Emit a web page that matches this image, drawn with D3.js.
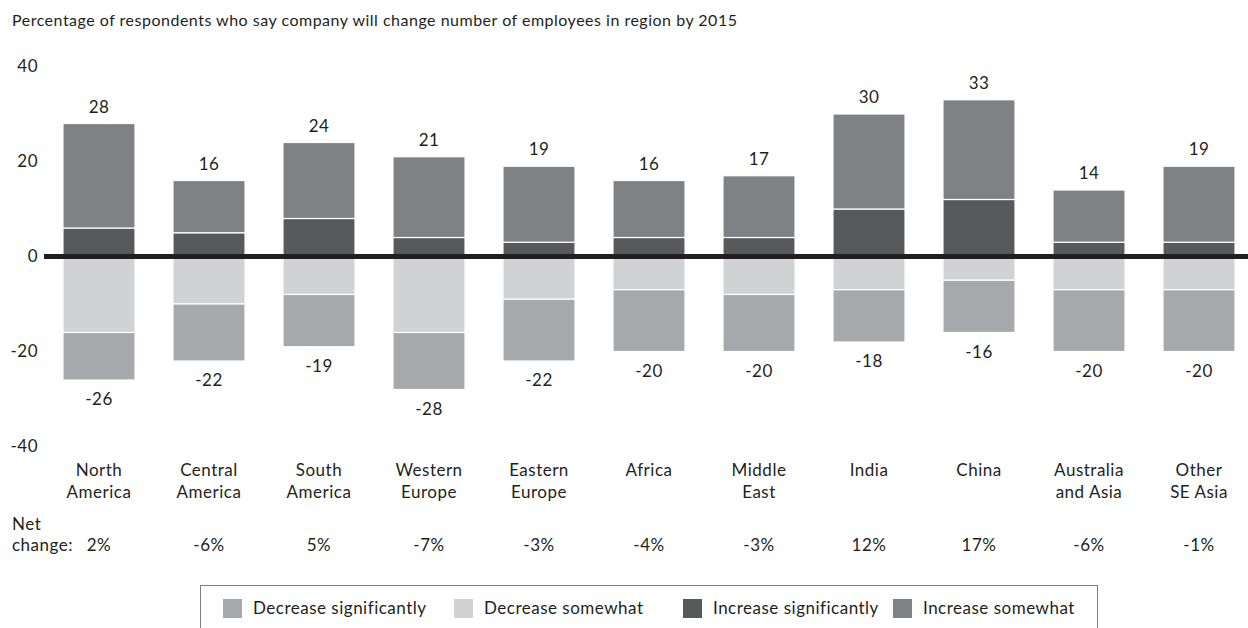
<!DOCTYPE html>
<meta charset="utf-8">
<head>
  <title>Employees by region</title>
</head>

<style>
body {
  margin: 0;
  background: #fff;
}
svg text {
  font-family: "Futura", "Century Gothic", Lato, "Noto Sans", sans-serif;
  fill: #231f20;
  letter-spacing: 0.5px;
}
</style>

<body>
  <div id="content"></div>

  <script src="https://cdnjs.cloudflare.com/ajax/libs/d3/7.8.5/d3.min.js"></script>

  <script>
// values (percent of respondents)
var regions = [
  ['North', 'America'], ['Central', 'America'], ['South', 'America'],
  ['Western', 'Europe'], ['Eastern', 'Europe'], ['Africa'], ['Middle', 'East'],
  ['India'], ['China'], ['Australia', 'and Asia'], ['Other', 'SE Asia']
];
var increaseSignificantly = [6, 5, 8, 4, 3, 4, 4, 10, 12, 3, 3];
var increaseSomewhat      = [22, 11, 16, 17, 16, 12, 13, 20, 21, 11, 16];
var decreaseSomewhat      = [16, 10, 8, 16, 9, 7, 8, 7, 5, 7, 7];
var decreaseSignificantly = [10, 12, 11, 12, 13, 13, 12, 11, 11, 13, 13];
var netChange = [2, -6, 5, -7, -3, -4, -3, 12, 17, -6, -1];
var yTicks = [-40, -20, 0, 20, 40];

var seriesNames = ['Decrease significantly', 'Decrease somewhat', 'Increase significantly', 'Increase somewhat'];
var colors = {
  incSig: '#58595b',
  incSome: '#808184',
  decSome: '#d1d2d4',
  decSig: '#a7a8ab'
};

var W = 1248, H = 628;

var svg = d3.select('#content').append('svg')
  .attr('width', W)
  .attr('height', H);

// build rows for the stack
var rows = regions.map(function(r, i) {
  return {
    name: r.join(' '),
    incSig: increaseSignificantly[i],
    incSome: increaseSomewhat[i],
    decSome: -decreaseSomewhat[i],
    decSig: -decreaseSignificantly[i]
  };
});

var keys = ['incSig', 'incSome', 'decSome', 'decSig'];
var stacked = d3.stack()
  .keys(keys)
  .offset(d3.stackOffsetDiverging)(rows);

var x = d3.scaleBand()
  .domain(rows.map(function(d) { return d.name; }))
  .range([44, 1254])
  .paddingInner(0.345)
  .paddingOuter(0.1725);

var y = d3.scaleLinear()
  .domain([-40, 40])
  .range([446.5, 66.5]);

// title
svg.append('text')
  .attr('x', 12)
  .attr('y', 26)
  .style('font-size', '16px')
  .text('Percentage of respondents who say company will change number of employees in region by 2015');

// y axis labels only
var yAxis = d3.axisLeft(y)
  .tickValues(yTicks)
  .tickSize(0)
  .tickPadding(0)
  .tickFormat(function(d) { return String(d); });

var gy = svg.append('g')
  .attr('transform', 'translate(38,0)')
  .call(yAxis);
gy.select('.domain').remove();
gy.selectAll('text')
  .style('font-size', '17px')
  .style('font-family', null)
  .attr('fill', '#231f20');

// bars
svg.append('g').selectAll('g')
  .data(stacked)
  .join('g')
    .attr('fill', function(s) { return colors[s.key]; })
  .selectAll('rect')
  .data(function(s) { return s; })
  .join('rect')
    .attr('x', function(d) { return x(d.data.name); })
    .attr('width', x.bandwidth())
    .attr('y', function(d) { return y(Math.max(d[0], d[1])); })
    .attr('height', function(d) { return Math.abs(y(d[0]) - y(d[1])); })
    .attr('stroke', '#fff')
    .attr('stroke-width', 1.2);

// zero line
svg.append('line')
  .attr('x1', 44)
  .attr('x2', W)
  .attr('y1', y(0))
  .attr('y2', y(0))
  .attr('stroke', '#231f20')
  .attr('stroke-width', 5);

// totals above / below
var cx = function(d) { return x(d.name) + x.bandwidth() / 2; };

svg.append('g').selectAll('text')
  .data(rows)
  .join('text')
    .attr('x', cx)
    .attr('y', function(d) { return y(d.incSig + d.incSome) - 11; })
    .attr('text-anchor', 'middle')
    .style('font-size', '17px')
    .text(function(d) { return String(d.incSig + d.incSome); });

svg.append('g').selectAll('text')
  .data(rows)
  .join('text')
    .attr('x', cx)
    .attr('y', function(d) { return y(d.decSome + d.decSig) + 25; })
    .attr('text-anchor', 'middle')
    .style('font-size', '17px')
    .text(function(d) { return String(d.decSome + d.decSig); });

// category labels
var cat = svg.append('g').selectAll('text')
  .data(rows)
  .join('text')
    .attr('x', cx)
    .attr('y', 476)
    .attr('text-anchor', 'middle')
    .style('font-size', '17px');
cat.selectAll('tspan')
  .data(function(d, i) { return regions[i]; })
  .join('tspan')
    .attr('x', function() { return this.parentNode.getAttribute('x'); })
    .attr('dy', function(d, i) { return i ? 22 : 0; })
    .text(function(d) { return d; });

// net change row
svg.append('text')
  .attr('x', 12)
  .attr('y', 530)
  .style('font-size', '17px')
  .text('Net');
svg.append('text')
  .attr('x', 12)
  .attr('y', 551)
  .style('font-size', '17px')
  .text('change:');

svg.append('g').selectAll('text')
  .data(rows)
  .join('text')
    .attr('x', cx)
    .attr('y', 551)
    .attr('text-anchor', 'middle')
    .style('font-size', '17px')
    .text(function(d, i) { return String(netChange[i]) + '%'; });

// legend
var legend = svg.append('g');
legend.append('rect')
  .attr('x', 200.5)
  .attr('y', 585.5)
  .attr('width', 897)
  .attr('height', 60)
  .attr('fill', 'none')
  .attr('stroke', '#808080')
  .attr('stroke-width', 1);

var legendX = [223, 454, 683, 893];
var legendColors = [colors.decSig, colors.decSome, colors.incSig, colors.incSome];

var item = legend.selectAll('g.item')
  .data(seriesNames)
  .join('g')
    .attr('class', 'item')
    .attr('transform', function(d, i) { return 'translate(' + legendX[i] + ',599)'; });
item.append('rect')
  .attr('width', 19)
  .attr('height', 19)
  .attr('fill', function(d, i) { return legendColors[i]; });
item.append('text')
  .attr('x', 30)
  .attr('y', 15)
  .style('font-size', '17px')
  .text(function(d) { return d; });
  </script>
</body>
</html>
